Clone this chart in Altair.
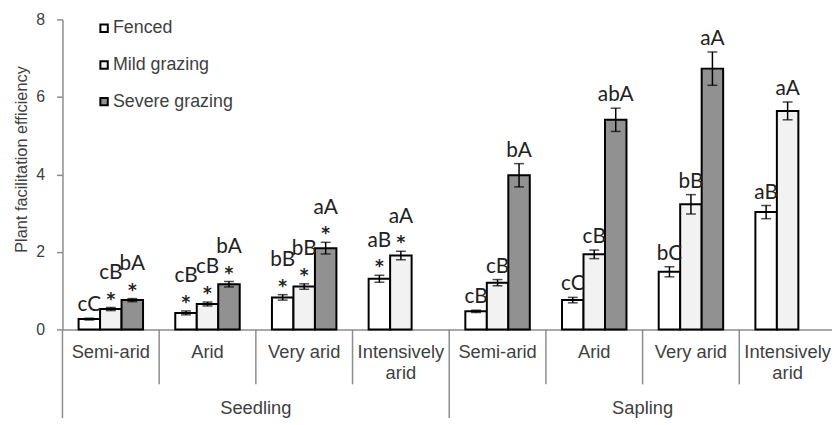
import altair as alt
import pandas as pd

# ---------------- data ----------------
stages = ["Seedling", "Sapling"]
categories = ["Semi-arid", "Arid", "Very arid", "Intensively arid"]
treatments = ["Fenced", "Mild grazing", "Severe grazing"]

# means (None = not measured)
seedling_fenced = [0.27, 0.43, 0.83, 1.31]
seedling_mild = [0.53, 0.66, 1.11, 1.91]
seedling_severe = [0.76, 1.17, 2.10, None]
sapling_fenced = [0.47, 0.76, 1.49, 3.03]
sapling_mild = [1.21, 1.94, 3.23, 5.64]
sapling_severe = [3.98, 5.41, 6.73, None]

# standard errors
seedling_fenced_se = [0.02, 0.05, 0.07, 0.09]
seedling_mild_se = [0.04, 0.05, 0.07, 0.11]
seedling_severe_se = [0.04, 0.07, 0.15, None]
sapling_fenced_se = [0.03, 0.07, 0.13, 0.17]
sapling_mild_se = [0.08, 0.11, 0.25, 0.23]
sapling_severe_se = [0.30, 0.30, 0.43, None]

# significance letters
seedling_fenced_lab = ["cC", "cB", "bB", "aB"]
seedling_mild_lab = ["cB", "cB", "bB", "aA"]
seedling_severe_lab = ["bA", "bA", "aA", None]
sapling_fenced_lab = ["cB", "cC", "bC", "aB"]
sapling_mild_lab = ["cB", "cB", "bB", "aA"]
sapling_severe_lab = ["bA", "abA", "aA", None]

# asterisk marks
seedling_fenced_star = [False, True, True, True]
seedling_mild_star = [True, True, True, True]
seedling_severe_star = [True, True, True, False]
sapling_fenced_star = [False, False, False, False]
sapling_mild_star = [False, False, False, False]
sapling_severe_star = [False, False, False, False]

series = {
    ("Seedling", "Fenced"): (seedling_fenced, seedling_fenced_se, seedling_fenced_lab, seedling_fenced_star),
    ("Seedling", "Mild grazing"): (seedling_mild, seedling_mild_se, seedling_mild_lab, seedling_mild_star),
    ("Seedling", "Severe grazing"): (seedling_severe, seedling_severe_se, seedling_severe_lab, seedling_severe_star),
    ("Sapling", "Fenced"): (sapling_fenced, sapling_fenced_se, sapling_fenced_lab, sapling_fenced_star),
    ("Sapling", "Mild grazing"): (sapling_mild, sapling_mild_se, sapling_mild_lab, sapling_mild_star),
    ("Sapling", "Severe grazing"): (sapling_severe, sapling_severe_se, sapling_severe_lab, sapling_severe_star),
}

rows = []
for s in stages:
    for i, c in enumerate(categories):
        for t in treatments:
            v, se, lab, st = series[(s, t)]
            if v[i] is None:
                continue
            rows.append(dict(key=f"{s}|{c}", trt=t, val=v[i], lo=v[i] - se[i],
                             hi=v[i] + se[i], lab=lab[i], star=st[i]))
df = pd.DataFrame(rows)

keys = [f"{s}|{c}" for s in stages for c in categories]
gdf = pd.DataFrame([dict(key=f"{s}|{c}", lab=c.replace("Intensively ", "Intensively\n"),
                         first=(i == 0)) for s in stages for i, c in enumerate(categories)])
sdf = pd.DataFrame([dict(stage=s, mid=f"{s}|{categories[2]}") for s in stages])

# ---------------- styling ----------------
AX = "#8c8c8c"
TXT = "#404040"
FONT = "Liberation Sans"
LFONT = "Lato"

x_scale = alt.Scale(domain=keys, range=[0, 781], paddingInner=0, paddingOuter=0)
off_scale = alt.Scale(domain=treatments, paddingInner=0, paddingOuter=0.75)
y_scale = alt.Scale(domain=[0, 8], nice=False)
fill_scale = alt.Scale(domain=treatments, range=["#ffffff", "#f2f2f2", "#919191"])

xaxis = alt.Axis(labels=False, ticks=False, title=None, grid=False,
                 domainColor=AX, domainWidth=1.5)
yaxis = alt.Axis(values=[0, 2, 4, 6, 8], format="d", grid=False,
                 domainColor=AX, domainWidth=1.5, tickColor=AX, tickWidth=1.5, tickSize=6,
                 labelFont=FONT, labelFontSize=16, labelColor=TXT, labelPadding=12,
                 title="Plant facilitation efficiency", titleFont=FONT, titleFontSize=16.5,
                 titleFontWeight="normal", titleColor=TXT, titleX=-36, titleY=141,
                 titleAngle=270, titleBaseline="alphabetic", titleAlign="center")


def X(field="key", **kw):
    return alt.X(f"{field}:N", scale=x_scale, axis=xaxis, **kw)


def Y(field):
    return alt.Y(f"{field}:Q", scale=y_scale, axis=yaxis)


XO = alt.XOffset("trt:N", scale=off_scale)

base = alt.Chart(df)

bars = base.mark_bar(stroke="black", strokeWidth=2).encode(
    x=X(), xOffset=XO, y=Y("val"),
    fill=alt.Fill("trt:N", scale=fill_scale, legend=alt.Legend(
        title=None, orient="none", legendX=33, legendY=0, symbolType="square",
        symbolSize=56, symbolStrokeColor="black", symbolStrokeWidth=2,
        labelFont=FONT, labelFontSize=18, labelColor=TXT, labelOffset=0,
        rowPadding=19)),
)

err = base.mark_rule(color="black", strokeWidth=1.5).encode(
    x=X(), xOffset=XO, y=Y("lo"), y2="hi:Q")
cap_hi = base.mark_tick(color="black", thickness=1.5, size=10, orient="horizontal").encode(
    x=X(), xOffset=XO, y=Y("hi"))
cap_lo = base.mark_tick(color="black", thickness=1.5, size=10, orient="horizontal").encode(
    x=X(), xOffset=XO, y=Y("lo"))

lab_star = base.transform_filter("datum.star").mark_text(
    font=LFONT, fontSize=21, color="#222222", baseline="alphabetic", dy=-29).encode(
    x=X(), xOffset=XO, y=Y("hi"), text="lab:N")
lab_plain = base.transform_filter("!datum.star").mark_text(
    font=LFONT, fontSize=21, color="#222222", baseline="alphabetic", dy=-7).encode(
    x=X(), xOffset=XO, y=Y("hi"), text="lab:N")
stars = base.transform_filter("datum.star").mark_text(
    font="DejaVu Sans", fontSize=17, fontWeight="bold", color="#222222",
    baseline="alphabetic", dy=-3).encode(
    x=X(), xOffset=XO, y=Y("hi"), text=alt.value("*"))

gbase = alt.Chart(gdf)
sep_inner = gbase.transform_filter("!datum.first").mark_rule(color=AX, strokeWidth=1.5).encode(
    x=X(bandPosition=0), y=alt.value(313.2), y2=alt.value(368.5))
sep_outer = gbase.transform_filter("datum.first").mark_rule(color=AX, strokeWidth=1.5).encode(
    x=X(bandPosition=0), y=alt.value(313.2), y2=alt.value(402.5))
cat_text = gbase.mark_text(font=FONT, fontSize=18.5, color=TXT, baseline="top",
                           lineBreak="\n", lineHeight=21).encode(
    x=X(), y=alt.value(327), text="lab:N")

stage_text = alt.Chart(sdf).mark_text(font=FONT, fontSize=18.5, color=TXT, baseline="middle").encode(
    x=X("mid", bandPosition=0), y=alt.value(392.5), text="stage:N")

chart = alt.layer(
    bars, err, cap_hi, cap_lo, lab_star, lab_plain, stars,
    sep_inner, sep_outer, cat_text, stage_text,
).properties(
    width=777, height=313.2,
    autosize=alt.AutoSizeParams(type="none"),
    padding={"left": 55, "top": 9.5, "right": 0, "bottom": 89.3},
    background="white",
).configure_view(stroke=None)

chart.save("out.html", embed_options={"renderer": "svg", "actions": False})
